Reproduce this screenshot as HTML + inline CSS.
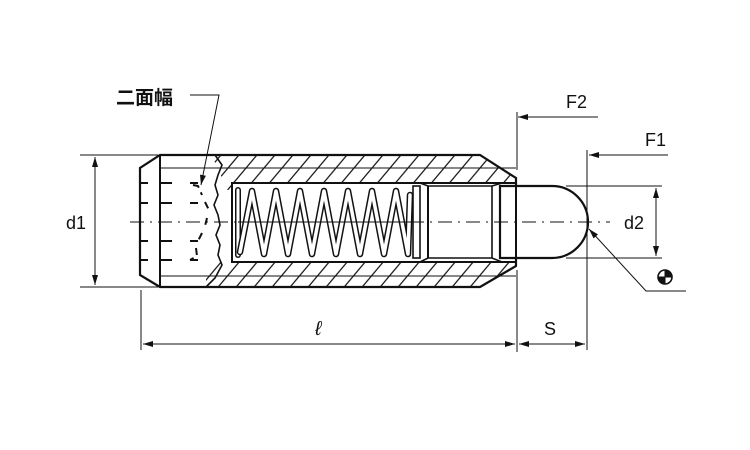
<!DOCTYPE html>
<html><head><meta charset="utf-8"><style>
html,body{margin:0;padding:0;background:#fff;width:750px;height:450px;overflow:hidden}
text{font-family:"Liberation Sans","Noto Sans CJK JP",sans-serif;fill:#111}
</style></head><body>
<svg width="750" height="450" viewBox="0 0 750 450" xmlns="http://www.w3.org/2000/svg">
<defs>
<marker id="a" viewBox="0 0 10 6" refX="10" refY="3" markerWidth="16" markerHeight="6" markerUnits="userSpaceOnUse" orient="auto-start-reverse"><path d="M0,0L10,3L0,6z" fill="#111"/></marker>
<pattern id="h" patternUnits="userSpaceOnUse" width="18" height="18" patternTransform="skewX(-40)">
<line x1="9" y1="0" x2="9" y2="18" stroke="#111" stroke-width="1.6"/></pattern>
<clipPath id="ct"><path d="M212,156 L480,156 L514,178 L514,183 L232,183 L232,200 Z"/></clipPath>
<clipPath id="cb"><path d="M206,262 L514,262 L514,266 L480,286 L206,286 Z"/></clipPath>
</defs>
<g fill="none" stroke="#111">
<rect x="200" y="150" width="320" height="40" fill="url(#h)" stroke="none" clip-path="url(#ct)"/>
<rect x="200" y="258" width="320" height="32" fill="url(#h)" stroke="none" clip-path="url(#cb)"/>
<path d="M516,186 L516,178 L480,155 L160,155 L140,168 L140,275 L160,287 L480,287 L516,266 L516,258" stroke-width="2.2"/>
<line x1="160" y1="155" x2="160" y2="287" stroke-width="2"/>
<line x1="160" y1="168" x2="516" y2="168" stroke-width="1"/>
<line x1="160" y1="276" x2="516" y2="276" stroke-width="1"/>
<path d="M215,155 L222,165 L218,175 L215,185 L218,195 L214,205 L218,215 L220,225 L216,235 L220,245 L218,255 L222,265 L215,278 L206,287" stroke-width="1.6"/>
<rect x="232" y="183" width="284" height="79" stroke-width="2"/>
<g stroke-width="2">
<line x1="140" y1="183" x2="148" y2="183"/><line x1="160" y1="183" x2="172" y2="183"/><line x1="190" y1="183" x2="198" y2="183"/>
<line x1="140" y1="203" x2="148" y2="203"/><line x1="160" y1="203" x2="172" y2="203"/><line x1="190" y1="203" x2="198" y2="203"/>
<line x1="140" y1="241" x2="148" y2="241"/><line x1="160" y1="241" x2="172" y2="241"/><line x1="190" y1="241" x2="198" y2="241"/>
<line x1="140" y1="260" x2="148" y2="260"/><line x1="160" y1="260" x2="172" y2="260"/><line x1="190" y1="260" x2="198" y2="260"/>
<path d="M193,185 L198,186 L202,195 M205,202 L210,212 M207,218 L205,226 M202,233 L198,241 M196,248 L197,256 L190,260" stroke-dasharray="7 5"/>
</g>
<!-- spring -->
<g stroke-linejoin="round" stroke-linecap="round">
<path d="M238,255 L238,190" stroke="#111" stroke-width="6"/>
<path d="M238,255 L238,190" stroke="#fff" stroke-width="3"/>
<path d="M240,252 L252,191 L264,254 L276,191 L288,254 L300,191 L312,254 L324,191 L336,254 L348,191 L360,254 L372,191 L384,254 L396,191 L408,254 L410,195" stroke="#111" stroke-width="6.5"/>
<path d="M240,252 L252,191 L264,254 L276,191 L288,254 L300,191 L312,254 L324,191 L336,254 L348,191 L360,254 L372,191 L384,254 L396,191 L408,254 L410,195" stroke="#fff" stroke-width="3.5"/>
</g>
<line x1="238" y1="222" x2="416" y2="222" stroke-width="1"/>
<rect x="413" y="186" width="7" height="72" stroke-width="1.6" fill="#fff"/>
<path d="M420,183 L428,186 L492,186 L502,183 M420,262 L428,258 L492,258 L502,262" stroke-width="1.6"/>
<line x1="428" y1="186" x2="428" y2="258" stroke-width="2"/>
<line x1="492" y1="186" x2="492" y2="258" stroke-width="1.6"/>
<path d="M500,186 L552,186 A36,36 0 0 1 552,258 L500,258 Z" stroke-width="2.2"/>
<line x1="130" y1="222" x2="610" y2="222" stroke-width="1" stroke-dasharray="14 6 2 6"/>
<g stroke-width="1">
<line x1="80" y1="155" x2="158" y2="155"/><line x1="80" y1="287" x2="158" y2="287"/>
<line x1="95" y1="157" x2="95" y2="285" marker-start="url(#a)" marker-end="url(#a)"/>
<line x1="141" y1="290" x2="141" y2="350"/>
<line x1="517" y1="112" x2="517" y2="170"/><line x1="517" y1="270" x2="517" y2="352"/>
<line x1="587" y1="150" x2="587" y2="350"/>
<line x1="143" y1="344" x2="515" y2="344" marker-start="url(#a)" marker-end="url(#a)"/>
<line x1="519" y1="344" x2="585" y2="344" marker-start="url(#a)" marker-end="url(#a)"/>
<line x1="518" y1="117" x2="598" y2="117" marker-start="url(#a)"/>
<line x1="589" y1="155" x2="668" y2="155" marker-start="url(#a)"/>
<line x1="566" y1="186" x2="662" y2="186"/><line x1="566" y1="258" x2="662" y2="258"/>
<line x1="656" y1="188" x2="656" y2="256" marker-start="url(#a)" marker-end="url(#a)"/>
<polyline points="686,291 646,291 589,229" marker-end="url(#a)"/>
<polyline points="190,95 219,95 201,185" marker-end="url(#a)"/>
</g>
<circle cx="665" cy="277" r="7" stroke-width="1.6"/>
<path d="M665,270 A7,7 0 0 1 672,277 L665,277Z M665,284 A7,7 0 0 1 658,277 L665,277Z" fill="#111" stroke="none"/>
<line x1="658" y1="277" x2="672" y2="277" stroke-width="1"/><line x1="665" y1="270" x2="665" y2="284" stroke-width="1"/>
</g>
<text x="116" y="104" font-size="19" font-weight="bold">二面幅</text>
<text x="66" y="229" font-size="18">d1</text>
<text x="624" y="229" font-size="18">d2</text>
<text x="566" y="108" font-size="18">F2</text>
<text x="645" y="146" font-size="18">F1</text>
<text x="544" y="335" font-size="18">S</text>
<text x="315" y="335" font-size="20" font-style="italic" font-family="Liberation Serif,serif">ℓ</text>
</svg>
</body></html>
